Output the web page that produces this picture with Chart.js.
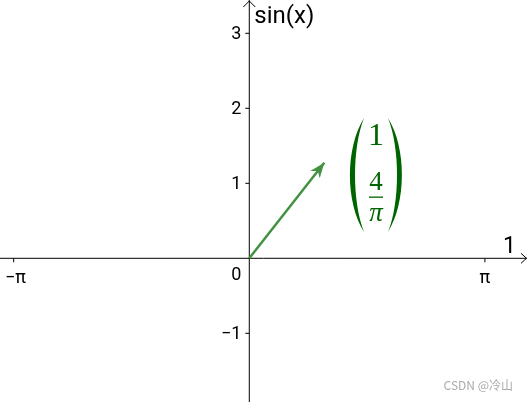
<!DOCTYPE html>
<html>
<head>
<meta charset="utf-8">
<script src="https://cdn.jsdelivr.net/npm/chart.js@4.4.1/dist/chart.umd.min.js"></script>
<style>
  html, body { margin: 0; padding: 0; background: #fff; }
  #wrap { width: 527px; height: 402px; }
</style>
</head>
<body>
<div id="wrap"><canvas id="vecChart" width="527" height="402"></canvas></div>
<script>
// view window (x and y in the same units)
const xRange = [-3.324, 3.703];
const yRange = [-1.916, 3.444];

// ticks
const xTicks = [-Math.PI, Math.PI];
const xTickLabels = ['\u2212\u03c0', '\u03c0'];
const yTicks = [-1, 1, 2, 3];
const yTickLabels = ['\u22121', '1', '2', '3'];

// the vector (1, 4/pi) drawn from the origin
const vecStart = [0, 0];
const vecEnd = [1, 4 / Math.PI];

const vecColor = 'rgb(66, 146, 66)';
const texColor = 'rgb(0, 100, 0)';

const axesPlugin = {
    id: 'geoAxes',
    beforeDatasetsDraw(chart) {
        const ctx = chart.ctx;
        const xs = chart.scales.x, ys = chart.scales.y;
        const ox = xs.getPixelForValue(0), oy = ys.getPixelForValue(0);
        const W = chart.width, H = chart.height;

        ctx.save();
        ctx.strokeStyle = '#000';
        ctx.lineWidth = 1;
        // axis lines
        ctx.beginPath();
        ctx.moveTo(0, oy); ctx.lineTo(W, oy);
        ctx.moveTo(ox, H); ctx.lineTo(ox, 0);
        ctx.stroke();
        // arrow heads (open)
        ctx.beginPath();
        ctx.moveTo(W - 6, oy - 5); ctx.lineTo(W - 0.5, oy); ctx.lineTo(W - 6, oy + 5);
        ctx.moveTo(ox - 6, 7); ctx.lineTo(ox, 1); ctx.lineTo(ox + 6, 7);
        ctx.stroke();

        // x ticks
        ctx.fillStyle = '#000';
        ctx.font = '18px Roboto';
        ctx.textAlign = 'center';
        ctx.textBaseline = 'alphabetic';
        xTicks.forEach((v, i) => {
            const px = xs.getPixelForValue(v);
            ctx.beginPath();
            ctx.moveTo(px, oy); ctx.lineTo(px, oy + 4);
            ctx.stroke();
            const w = ctx.measureText(xTickLabels[i]).width;
            const lx = Math.min(Math.max(px, w / 2 + 5), W - w / 2 - 5);
            ctx.fillText(xTickLabels[i], lx, oy + 25);
        });

        // y ticks
        ctx.textAlign = 'right';
        ctx.textBaseline = 'middle';
        yTicks.forEach((v, i) => {
            const py = ys.getPixelForValue(v);
            ctx.beginPath();
            ctx.moveTo(ox - 4, py); ctx.lineTo(ox, py);
            ctx.stroke();
            ctx.fillText(yTickLabels[i], ox - 8, py + 1);
        });
        // origin label
        ctx.textBaseline = 'alphabetic';
        ctx.fillText('0', ox - 8, oy + 22);

        // axis names
        ctx.textAlign = 'left';
        ctx.font = '24px Roboto';
        ctx.fillText('sin(x)', ox + 5, 23);
        ctx.textAlign = 'right';
        ctx.font = '23px Roboto';
        ctx.fillText('1', W - 11, oy - 5);

        // watermark
        ctx.font = '12px "Noto Sans CJK SC", sans-serif';
        ctx.fillStyle = '#aaa';
        ctx.textAlign = 'right';
        ctx.fillText('CSDN @\u51b7\u5c71', W - 14, H - 12);
        ctx.restore();
    },
    afterDatasetsDraw(chart) {
        const ctx = chart.ctx;
        const pts = chart.getDatasetMeta(0).data;
        const a = pts[0], b = pts[1];
        const ang = Math.atan2(b.y - a.y, b.x - a.x);
        const len = 15, half = 6;
        ctx.save();
        ctx.fillStyle = vecColor;
        ctx.beginPath();
        ctx.moveTo(b.x, b.y);
        ctx.lineTo(b.x - len * Math.cos(ang) + half * Math.sin(ang), b.y - len * Math.sin(ang) - half * Math.cos(ang));
        ctx.lineTo(b.x - len * 0.7 * Math.cos(ang), b.y - len * 0.7 * Math.sin(ang));
        ctx.lineTo(b.x - len * Math.cos(ang) - half * Math.sin(ang), b.y - len * Math.sin(ang) + half * Math.cos(ang));
        ctx.closePath();
        ctx.fill();

        // column vector label (1 ; 4/pi)
        const cx = 376;
        ctx.fillStyle = texColor;
        ctx.textAlign = 'center';
        ctx.textBaseline = 'alphabetic';
        ctx.font = '32px "Liberation Serif"';
        ctx.fillText('1', cx, 145);
        ctx.font = '27px "Liberation Serif"';
        ctx.fillText('4', cx, 190);
        ctx.font = 'italic 27px "Liberation Serif"';
        ctx.fillText('\u03c0', cx, 221);
        ctx.fillRect(cx - 7, 196.5, 14, 1.3);

        // parentheses
        const top = 118, bot = 232;
        [[364, 350, 355], [388, 402, 397]].forEach(([tip, outer, inner]) => {
            const co = (outer - 0.25 * tip) / 0.75;
            const ci = (inner - 0.25 * tip) / 0.75;
            ctx.beginPath();
            ctx.moveTo(tip, top);
            ctx.bezierCurveTo(co, top + 30, co, bot - 30, tip, bot);
            ctx.bezierCurveTo(ci, bot - 30, ci, top + 30, tip, top);
            ctx.closePath();
            ctx.fill();
        });
        ctx.restore();
    }
};

const chart = new Chart(document.getElementById('vecChart'), {
    type: 'scatter',
    data: {
        datasets: [{
            data: [
                { x: vecStart[0], y: vecStart[1] },
                { x: vecEnd[0], y: vecEnd[1] }
            ],
            showLine: true,
            borderColor: vecColor,
            borderWidth: 2.5,
            pointRadius: 0,
            clip: false
        }]
    },
    options: {
        responsive: false,
        animation: false,
        events: [],
        layout: { padding: 0 },
        scales: {
            x: { type: 'linear', min: xRange[0], max: xRange[1], display: false },
            y: { type: 'linear', min: yRange[0], max: yRange[1], display: false }
        },
        plugins: {
            legend: { display: false },
            tooltip: { enabled: false }
        }
    },
    plugins: [axesPlugin]
});
</script>
</body>
</html>
